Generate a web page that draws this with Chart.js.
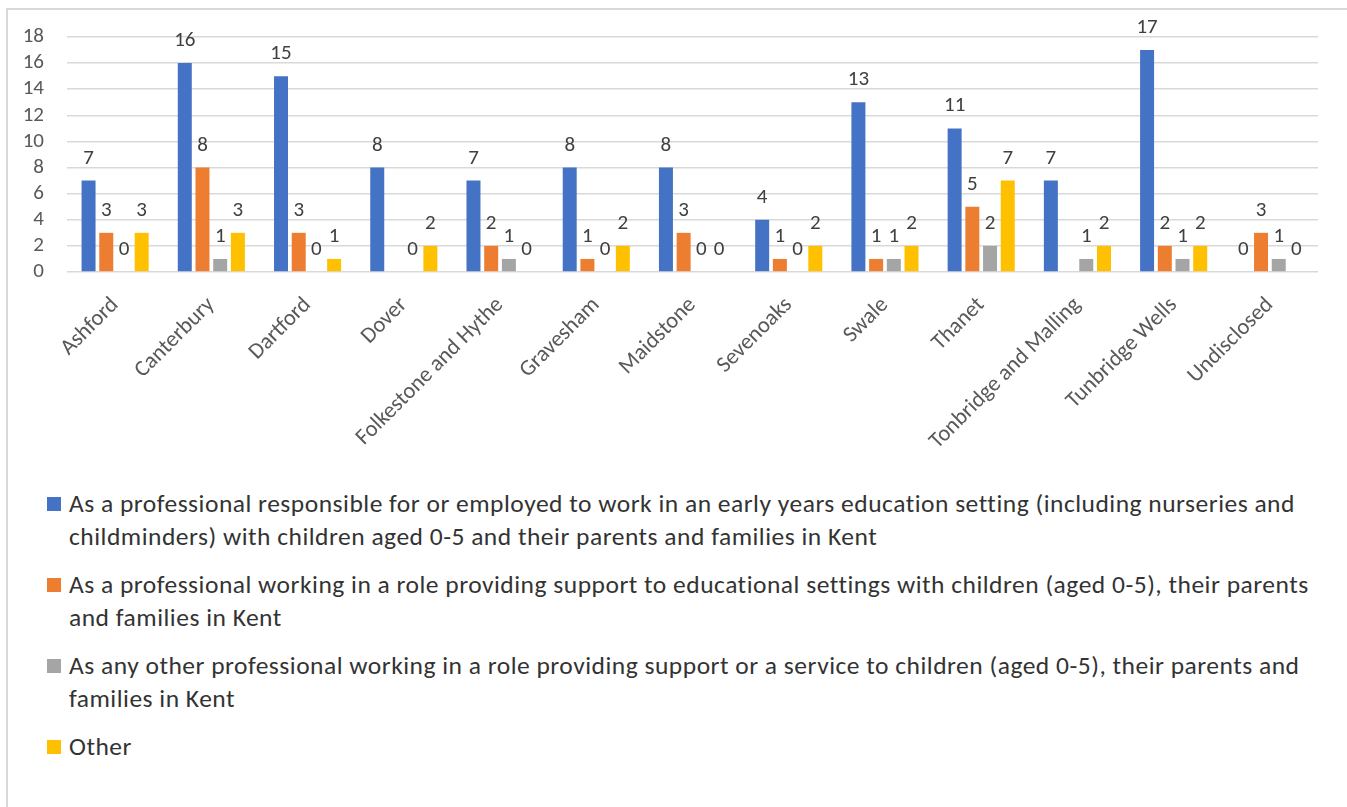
<!DOCTYPE html>
<html><head><meta charset="utf-8">
<script src="https://cdn.jsdelivr.net/npm/chart.js@4.4.1/dist/chart.umd.min.js"></script>
<style>
html,body{margin:0;padding:0;background:#fff;width:1347px;height:807px;overflow:hidden;font-family:Carlito,Lato,sans-serif;}
#frame{position:absolute;left:6px;top:8px;width:1400px;height:900px;border-left:2px solid #d9d9d9;border-top:2px solid #d9d9d9;}
#wrap{position:absolute;left:0;top:0;width:1347px;height:460px;}
#legend{position:absolute;left:47px;top:487px;width:1284px;}
.item{display:flex;align-items:flex-start;margin-bottom:15px;}
.sw{width:14px;height:14px;flex:none;margin-top:10px;margin-right:8px;}
.txt{font-size:25.5px;letter-spacing:0.5px;line-height:33px;color:#333;}
</style>
</head><body>
<div id="frame"></div>
<div id="wrap"><canvas id="c"></canvas></div>
<div id="legend"></div>
<script>
const categories = ["Ashford","Canterbury","Dartford","Dover","Folkestone and Hythe","Gravesham","Maidstone","Sevenoaks","Swale","Thanet","Tonbridge and Malling","Tunbridge Wells","Undisclosed"];
const seriesNames = [
  "As a professional responsible for or employed to work in an early years education setting (including nurseries and childminders) with children aged 0-5 and their parents and families in Kent",
  "As a professional working in a role providing support to educational settings with children (aged 0-5), their parents and families in Kent",
  "As any other professional working in a role providing support or a service to children (aged 0-5), their parents and families in Kent",
  "Other"
];
const earlyYears   = [7,16,15,8,7,8,8,4,13,11,7,17,0];
const supportEdu   = [3,8,3,null,2,1,3,1,1,5,null,2,3];
const otherProf    = [0,1,0,0,1,0,0,0,1,2,1,1,1];
const otherResp    = [3,3,1,2,0,2,0,2,2,7,2,2,0];
const yTicks = [0,2,4,6,8,10,12,14,16,18];
const colors = ["#4472C4","#ED7D31","#A5A5A5","#FFC000"];
const seriesData = [earlyYears, supportEdu, otherProf, otherResp];
const FONT = 'Carlito, Lato, sans-serif';

const valueLabels = {
  id:'valueLabels',
  afterDatasetsDraw(chart){
    const ctx = chart.ctx; ctx.save();
    ctx.font = '21px ' + FONT;
    ctx.fillStyle = '#404040'; ctx.textAlign = 'center'; ctx.textBaseline = 'alphabetic';
    chart.data.datasets.forEach((ds,i)=>{
      const meta = chart.getDatasetMeta(i);
      meta.data.forEach((el,j)=>{
        const v = ds.data[j];
        if (v === null || v === undefined) return;
        ctx.fillText(String(v), el.x, el.y - 17);
      });
    });
    ctx.restore();
  }
};

new Chart(document.getElementById('c'), {
  type:'bar',
  data:{
    labels: categories,
    datasets: seriesData.map((d,i)=>({
      label: seriesNames[i], data: d, backgroundColor: colors[i],
      barPercentage: 0.79, categoryPercentage: 0.736
    }))
  },
  options:{
    responsive:true, maintainAspectRatio:false, animation:false,
    layout:{padding:{top:37,right:29,left:0,bottom:0}},
    plugins:{legend:{display:false}, tooltip:{enabled:false}},
    scales:{
      x:{
        grid:{display:false, drawTicks:false},
        border:{display:false},
        ticks:{autoSkip:false, maxRotation:45, minRotation:45, padding:20, color:'#595959', font:{size:22.5, family:FONT}},
        afterFit(s){ s.height = 460 - 272; s.paddingLeft = 0; s.paddingRight = 0; }
      },
      y:{
        min:0, max:18,
        afterBuildTicks(s){ s.ticks = yTicks.map(v=>({value:v})); },
        grid:{color:'#d9d9d9', lineWidth:1.6, drawTicks:false},
        border:{display:false},
        ticks:{autoSkip:false, padding:23, color:'#595959', font:{size:21, family:FONT}},
        afterFit(s){ s.width = 67; s.paddingTop = 0; s.paddingBottom = 0; }
      }
    }
  },
  plugins:[valueLabels]
});

const leg = document.getElementById('legend');
seriesNames.forEach((n,i)=>{
  const it = document.createElement('div'); it.className='item';
  const sw = document.createElement('div'); sw.className='sw'; sw.style.background = colors[i];
  const tx = document.createElement('div'); tx.className='txt'; tx.textContent = n;
  it.appendChild(sw); it.appendChild(tx); leg.appendChild(it);
});
</script>
</body></html>
